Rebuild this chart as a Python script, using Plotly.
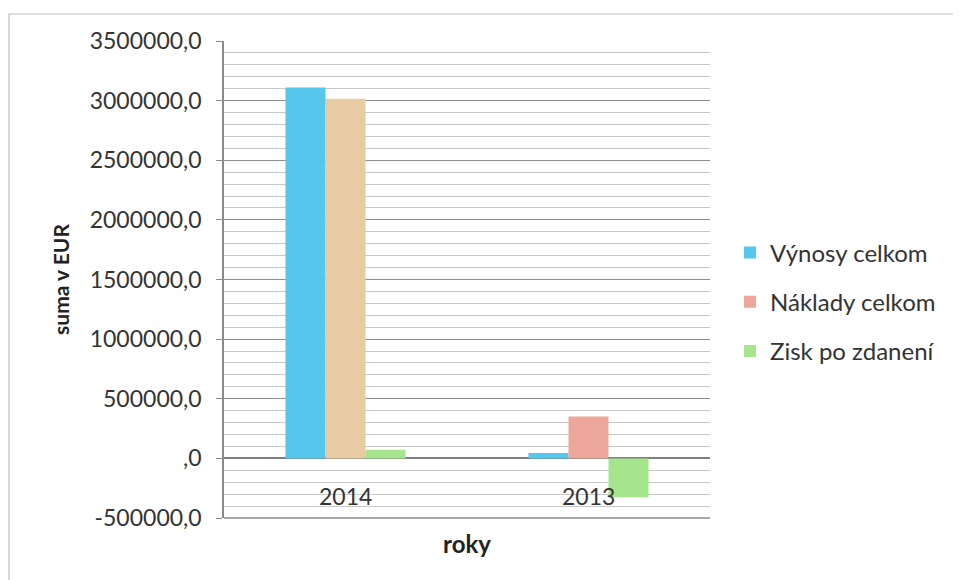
import plotly.graph_objects as go

categories = ["2014", "2013"]
series_names = ["Výnosy celkom", "Náklady celkom", "Zisk po zdanení"]
vynosy = [3110000, 45000]
naklady = [3015000, 352000]
zisk = [73000, -325000]
tick_vals = [-500000, 0, 500000, 1000000, 1500000, 2000000, 2500000, 3000000, 3500000]
tick_text = ["-500000,0", ",0", "500000,0", "1000000,0", "1500000,0", "2000000,0",
             "2500000,0", "3000000,0", "3500000,0"]

OFF = 8  # page body offset
W, H = 961 - OFF, 580 - OFF
L, T = 224 - OFF, 41 - OFF
pw, ph = 486, 477
R, B = W - L - pw, H - T - ph

FONT = "Lato"
fig = go.Figure()
colors = ["#55C6EC", ["#E6CBA3", "#EDA79A"], "#A6E58E"]
legend_colors = ["#55C6EC", "#EDA79A", "#A6E58E"]
for i, (name, vals) in enumerate(zip(series_names, [vynosy, naklady, zisk])):
    fig.add_trace(go.Bar(x=categories, y=vals, name=name, marker_color=colors[i],
                         marker_line_width=0, showlegend=False, legendgroup=f"g{i}",
                         offsetgroup=f"g{i}"))
for i, name in enumerate(series_names):
    fig.add_trace(go.Bar(x=[categories[0]], y=[None], name=name, marker_color=legend_colors[i],
                         marker_line_width=0, legendgroup=f"g{i}", offsetgroup=f"g{i}",
                         showlegend=True))

minor_vals = [v for v in range(-500000, 3500001, 100000) if v % 500000 != 0]

for idx, c in enumerate(categories):
    fig.add_annotation(x=idx, y=0, text=c, showarrow=False, yanchor="top", yshift=-22,
                       font=dict(family=FONT, size=23, color="#333333"))

fig.update_layout(
    width=W, height=H,
    margin=dict(l=L, r=R, t=T, b=B, autoexpand=False),
    paper_bgcolor="white", plot_bgcolor="white",
    barmode="group", bargap=0.506, bargroupgap=0,
    font=dict(family=FONT, size=23, color="#333333"),
    xaxis=dict(type="category", range=[-0.5, len(categories) - 0.5],
               showticklabels=False, showgrid=False, zeroline=False, showline=False,
               title=dict(text="<b>roky</b>", font=dict(family=FONT, size=24, color="#222222"), standoff=18)),
    yaxis=dict(range=[-500000, 3500000], tickvals=tick_vals, ticktext=tick_text,
               showgrid=True, gridcolor="#8f8f8f", gridwidth=1.2,
               minor=dict(tickvals=minor_vals, showgrid=True, gridcolor="#c8c8c8", gridwidth=1),
               zeroline=True, zerolinecolor="#7f7f7f", zerolinewidth=1.5,
               showline=True, linecolor="#8a8a8a", linewidth=1.5,
               ticks="outside", ticklen=6, tickcolor="#8a8a8a", ticklabelstandoff=10,
               tickfont=dict(family=FONT, size=23, color="#333333"),
               title=dict(text="<b>suma v EUR</b>", font=dict(family=FONT, size=21, color="#222222"), standoff=14)),
    legend=dict(x=(730 - 224) / pw, y=(518 - 302) / ph, xanchor="left", yanchor="middle",
                font=dict(family=FONT, size=24, color="#333333"),
                tracegroupgap=15, itemwidth=30, bgcolor="rgba(0,0,0,0)"),
)

fig.add_shape(type="line", xref="paper", yref="paper", x0=0, x1=1, y0=0, y1=0,
              line=dict(color="#8a8a8a", width=1.5))
fig.add_shape(type="rect", xref="paper", yref="paper",
              x0=(9 - 224) / pw, x1=(957 - 224) / pw, y0=(518 - 640) / ph, y1=(518 - 14) / ph,
              line=dict(color="#bdbdbd", width=1.2), fillcolor="rgba(0,0,0,0)", layer="below")

fig.write_html("out.html")
